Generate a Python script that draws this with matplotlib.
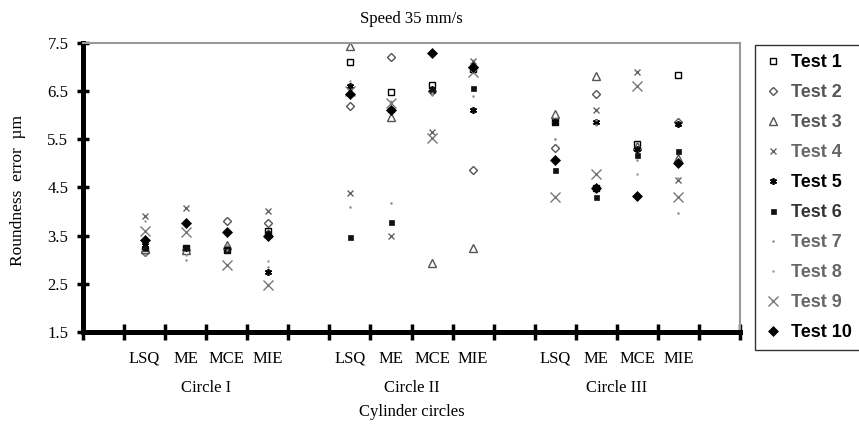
import numpy as np
import matplotlib
matplotlib.use("Agg")
import matplotlib.pyplot as plt
from matplotlib.ticker import FixedLocator, NullFormatter

# ---- data -------------------------------------------------------------
groups = ["Circle I", "Circle II", "Circle III"]
methods = ["LSQ", "ME", "MCE", "MIE"]
series_names = ["Test 1", "Test 2", "Test 3", "Test 4", "Test 5",
                "Test 6", "Test 7", "Test 8", "Test 9", "Test 10"]

# values per series: Circle I (LSQ, ME, MCE, MIE), Circle II (...), Circle III (...)
test1 = [3.20, 3.25, 3.20, 3.60, 7.10, 6.48, 6.62, 6.95, 5.85, 4.48, 5.40, 6.82]
test2 = [3.15, 3.20, 3.80, 3.77, 6.19, 7.20, 6.50, 4.87, 5.31, 6.44, 5.30, 5.85]
test3 = [3.22, 3.20, 3.30, 3.55, 7.43, 5.95, 2.94, 3.25, 6.02, 6.80, 5.35, 5.10]
test4 = [3.90, 4.08, 3.25, 4.00, 4.38, 3.50, 5.65, 7.13, 5.90, 6.10, 6.89, 4.65]
test5 = [3.30, 3.25, 3.22, 2.75, 6.60, 6.10, 6.55, 6.10, 5.85, 5.86, 5.30, 5.82]
test6 = [3.25, 3.27, 3.20, 3.55, 3.48, 3.79, 6.52, 6.57, 4.86, 4.29, 5.17, 5.26]
test7 = [3.10, 3.00, 3.20, 2.85, 4.10, 4.17, 6.42, 6.40, 5.50, 5.90, 5.07, 3.96]
test8 = [3.80, 3.10, 3.30, 2.98, 6.71, 6.30, 6.45, 6.90, 5.50, 5.80, 4.78, 4.70]
test9 = [3.60, 3.58, 2.88, 2.48, 6.50, 6.24, 5.52, 6.90, 4.31, 4.78, 6.61, 4.29]
test10 = [3.40, 3.77, 3.58, 3.50, 6.44, 6.10, 7.28, 7.00, 5.07, 4.48, 4.32, 5.00]
all_series = [test1, test2, test3, test4, test5, test6, test7, test8, test9, test10]

y_ticks = [1.5, 2.5, 3.5, 4.5, 5.5, 6.5, 7.5]

# ---- styles -----------------------------------------------------------
styles = [
    dict(marker="s", ms=4.8, mfc="white", mec="black", mew=1.0),
    dict(marker="D", ms=4.4, mfc="white", mec="#555555", mew=1.0),
    dict(marker="^", ms=5.2, mfc="white", mec="#555555", mew=1.0),
    dict(marker="x", ms=3.8, mfc="none", mec="#666666", mew=1.0),
    dict(marker=(6, 2, 0), ms=5.0, mfc="none", mec="black", mew=1.2),
    dict(marker="s", ms=3.6, mfc="#111111", mec="#111111", mew=0.5),
    dict(marker="o", ms=1.4, mfc="#888888", mec="#888888", mew=0.3),
    dict(marker="o", ms=1.4, mfc="#999999", mec="#999999", mew=0.3),
    dict(marker="x", ms=7.5, mfc="none", mec="#777777", mew=1.0),
    dict(marker="D", ms=4.8, mfc="black", mec="black", mew=0.5),
]
text_colors = ["black", "#555555", "#555555", "#666666", "black",
               "#333333", "#666666", "#666666", "#666666", "black"]

serif = ["Liberation Serif", "DejaVu Serif"]

fig = plt.figure(figsize=(8.59, 4.30), dpi=100)
ax = fig.add_axes([83 / 859, 1 - 332 / 430, (740 - 83) / 859, (332 - 42.7) / 430])

# category positions: 4 methods per group, one blank slot between groups
n_slots = len(groups) * (len(methods) + 1) + 1
positions = []
for g in range(len(groups)):
    for m in range(len(methods)):
        positions.append(g * (len(methods) + 1) + m + 1 + 0.5)
positions = np.array(positions)

handles = []
for vals, st, name in zip(all_series, styles, series_names):
    h, = ax.plot(positions, vals, linestyle="none", label=name, **st)
    handles.append(h)

ax.set_xlim(0, n_slots)
ax.set_ylim(y_ticks[0], y_ticks[-1])

# spines
for s in ["left", "bottom"]:
    ax.spines[s].set_linewidth(3.6)
    ax.spines[s].set_color("black")
for s in ["top", "right"]:
    ax.spines[s].set_linewidth(1.5)
    ax.spines[s].set_color("#999999")

# y ticks
ax.set_yticks(y_ticks)
ax.set_yticklabels([f"{v:.1f}" for v in y_ticks], fontfamily=serif, fontsize=12)
ax.tick_params(axis="y", direction="inout", length=8, width=2.5, pad=6.5, color="black")

# x ticks: boundaries as minor ticks, labels as text
ax.xaxis.set_major_locator(FixedLocator([]))
ax.xaxis.set_minor_locator(FixedLocator(np.arange(0, n_slots + 1)))
ax.xaxis.set_minor_formatter(NullFormatter())
ax.tick_params(axis="x", which="minor", direction="inout", length=11, width=2.5, color="black")

xt = ax.get_xaxis_transform()
for p, lab in zip(positions, methods * len(groups)):
    ax.text(p, -0.093, lab, transform=xt, ha="center", va="center",
            fontfamily=serif, fontsize=12)
for g, gname in enumerate(groups):
    center = positions[g * len(methods):(g + 1) * len(methods)].mean()
    ax.text(center, -0.194, gname, transform=xt, ha="center", va="center",
            fontfamily=serif, fontsize=12)
ax.text(0.5, -0.277, "Cylinder circles", transform=ax.transAxes, ha="center",
        va="center", fontfamily=serif, fontsize=12)

fig.text(411 / 859, 1 - 19 / 430, "Speed 35 mm/s", ha="center", va="center",
         fontfamily=serif, fontsize=12)
fig.text(18 / 859, 1 - 190 / 430, "Roundness  error  \u00b5m", rotation=90,
         ha="center", va="center", fontfamily=serif, fontsize=12.5)

leg = fig.legend(handles=handles, loc="upper left",
                 bbox_to_anchor=(755 / 859, 1 - 45 / 430),
                 prop=dict(family=["Liberation Sans", "DejaVu Sans"], weight="bold", size=13),
                 frameon=True, fancybox=False, edgecolor="black",
                 handlelength=1.0, handletextpad=0.5, borderpad=0.5,
                 labelspacing=0.72, borderaxespad=0.0, markerscale=1.0)
leg.get_frame().set_linewidth(1.0)
for t, c in zip(leg.get_texts(), text_colors):
    t.set_color(c)

fig.savefig("out.png", dpi=100)
